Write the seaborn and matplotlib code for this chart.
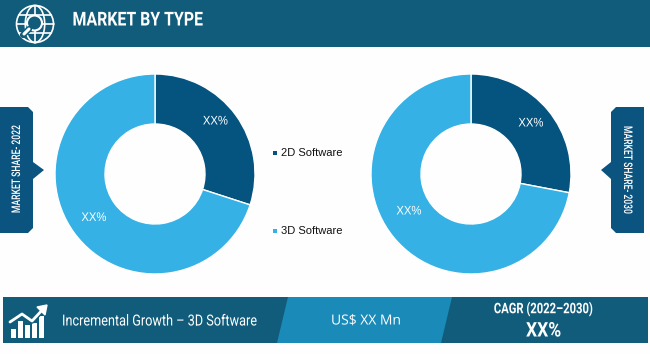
"""Market by type - two donuts with header and footer banners."""
import matplotlib
matplotlib.use('Agg')
import matplotlib.pyplot as plt
from matplotlib.patches import Polygon, Rectangle, Circle, Ellipse
from matplotlib.patheffects import AbstractPathEffect
from matplotlib.transforms import Affine2D
import seaborn as sns

W, H = 650, 354

categories = ['2D Software', '3D Software']
share_2022 = [30, 70]
share_2030 = [28, 72]
share_labels = ['XX%', 'XX%']

title = 'MARKET BY TYPE'
left_tag = 'MARKET SHARE- 2022'
right_tag = 'MARKET SHARE- 2030'
footer_left = 'Incremental Growth \u2013 3D Software'
footer_mid = 'US$ XX Mn'
footer_right_top = 'CAGR (2022\u20132030)'
footer_right_big = 'XX%'

DARK = '#115c7b'
TAG = '#0b5480'
MID = '#1a8ab8'
palette = sns.color_palette(['#05537f', '#35b1e5'])

sns.set_theme(style='white')
plt.rcParams['font.family'] = ['Roboto', 'DejaVu Sans']
ARIAL = ['Liberation Sans', 'DejaVu Sans']

fig = plt.figure(figsize=(W / 100, H / 100), dpi=100, facecolor='#fefefe')
bg = fig.add_axes([0, 0, 1, 1])
bg.set_xlim(0, W)
bg.set_ylim(H, 0)
bg.axis('off')
bg.set_zorder(2)


class Squeeze(AbstractPathEffect):
    """Zweza tekst wokol punktu (brak waskiego fontu w systemie)."""

    def __init__(self, x, y, sx=1.0, sy=1.0):
        super().__init__()
        self.t = Affine2D().translate(-x, -(H - y)).scale(sx, sy).translate(x, H - y)

    def draw_path(self, renderer, gc, tpath, affine, rgbFace=None):
        renderer.draw_path(gc, tpath, affine + self.t, rgbFace)


def narrow_text(x, y, s, sx=1.0, sy=1.0, **kw):
    t = bg.text(x, y, s, color='white', va='center', **kw)
    t.set_path_effects([Squeeze(x, y, sx, sy)])
    return t


def donut(cx, cy, r, values, label_pos):
    """Rysuje donut w osobnych osiach, srodek i promien w pikselach."""
    ax = fig.add_axes([(cx - r) / W, 1 - (cy + r) / H, 2 * r / W, 2 * r / H])
    ax.pie(values, colors=palette, startangle=90, counterclock=False, radius=1,
           wedgeprops=dict(width=0.5, edgecolor='white', linewidth=1))
    ax.set_xlim(-1, 1)
    ax.set_ylim(-1, 1)
    ax.set_zorder(1)
    for lab, (x, y) in zip(share_labels, label_pos):
        narrow_text(x, y, lab, sx=0.9, fontsize=9, ha='center', family=ARIAL)


def tag(x0, x1, chamfer_x, arrow_x, text, rot):
    # x0 = strona z fazowaniem i strzalka
    pts = [(x1, 107), (x0 - chamfer_x, 107), (x0, 112), (x0, 162), (arrow_x, 170),
           (x0, 179), (x0, 228), (x0 - chamfer_x, 233), (x1, 233)]
    bg.add_patch(Polygon(pts, closed=True, fc=TAG, ec='none'))
    narrow_text((x0 + x1) / 2, 169.5, text, sy=0.72, fontsize=8.6, rotation=rot, ha='center',
                fontweight='medium')


def globe_icon(cx, cy, r):
    kw = dict(fc='none', ec='white', lw=1.2)
    bg.add_patch(Circle((cx, cy), r, **kw))
    bg.add_patch(Ellipse((cx, cy), r * 1.05, 2 * r, **kw))
    bg.plot([cx - r, cx + r], [cy, cy], color='white', lw=1.2)
    bg.plot([cx - r * 0.85, cx + r * 0.85], [cy - r * 0.5, cy - r * 0.5], color='white', lw=1.2)
    bg.plot([cx - r * 0.85, cx + r * 0.85], [cy + r * 0.5, cy + r * 0.5], color='white', lw=1.2)
    bg.plot([cx, cx], [cy - r, cy + r], color='white', lw=1.2)
    bg.add_patch(Circle((cx - 0.5, cy - 1), 7.5, fc=DARK, ec='white', lw=1.5, zorder=3))
    bg.plot([cx - 6, cx - 12], [cy + 5, cy + 11], color=DARK, lw=4.5, zorder=3)
    bg.plot([cx - 6, cx - 11], [cy + 5, cy + 10], color='white', lw=2.2, zorder=4)


def growth_icon():
    for x, top in [(10, 329), (17, 321), (24, 325), (31, 323), (38, 316)]:
        bg.add_patch(Rectangle((x + 1, top), 5, 338 - top, fc='white', ec='none'))
    bg.plot([10, 22, 32, 45], [322, 314, 321, 307], color=DARK, lw=4, zorder=3)
    bg.plot([10, 22, 32, 45], [322, 314, 321, 307], color='white', lw=2, zorder=4)
    bg.add_patch(Polygon([(37, 307), (47, 305), (45, 315)], closed=True, fc='white', zorder=4))


# naglowek
bg.add_patch(Rectangle((0, 0), W, 46.5, fc=DARK, ec='none'))
globe_icon(35, 24, 18.5)
narrow_text(72.5, 20.5, title, sx=0.83, fontsize=13.8, fontweight='bold', ha='left')

# donuty
donut(155, 174, 100, share_2022, [(215.5, 121.5), (94, 218)])
donut(471, 174, 100, share_2030, [(531, 123.5), (409, 211.5)])

# legenda
for y, cat, col in zip([153, 231], categories, palette):
    bg.add_patch(Rectangle((273, y - 2), 4, 4, fc=col, ec='none'))
    bg.text(281, y + 0.5, cat, color='#111111', fontsize=8, ha='left', va='center', family=ARIAL)

# etykiety boczne
tag(33, 0, 5, 44, left_tag, 90)
tag(611, 644, -5, 601, right_tag, 270)

# stopka
bg.add_patch(Rectangle((3, 297), 645, 46, fc=DARK, ec='none'))
bg.add_patch(Polygon([(288, 297), (452, 297), (441, 343), (277, 343)], closed=True, fc=MID, ec='none'))
growth_icon()
narrow_text(62, 321.5, footer_left, sx=0.83, fontsize=11, ha='left')
narrow_text(331, 321, footer_mid, fontsize=10, ha='left', family=['Open Sans', 'DejaVu Sans'])
narrow_text(543.5, 309, footer_right_top, sx=0.77, fontsize=10.5, ha='center', fontweight='bold')
narrow_text(543.5, 331, footer_right_big, sx=0.87, fontsize=14.5, ha='center', fontweight='bold')

fig.savefig('out.png', dpi=100, facecolor=fig.get_facecolor())
plt.close(fig)
